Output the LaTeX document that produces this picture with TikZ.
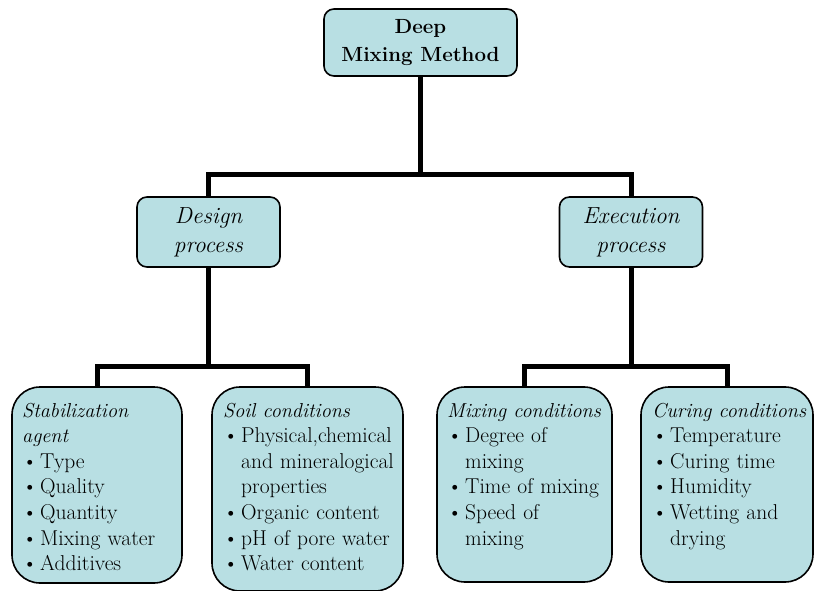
\documentclass[tikz,border=0pt]{standalone}
\definecolor{boxfill}{RGB}{184,223,227}
\newcommand{\bitem}[1]{\par\hangindent=18pt\hangafter=1\noindent\makebox[18pt][l]{\textbullet}#1}
\newcommand{\headit}[1]{{\fontsize{20.2}{25.6}\selectfont\itshape #1}}
\tikzset{
  conn/.style={line width=5pt},
  upbox/.style={draw, line width=1.6pt, fill=boxfill, rounded corners=10pt, inner sep=0pt, align=center},
  leafbox/.style={draw, line width=1.6pt, fill=boxfill, rounded corners=28pt, inner sep=0pt},
  leaftext/.style={anchor=north west, inner sep=0pt, text width=200pt, align=left, font=\fontsize{21.5}{25.6}\selectfont},
}
\begin{document}
\begin{tikzpicture}[x=1pt,y=-1pt]
\useasboundingbox (0,0) rectangle (815,591);
% nodes
\node[upbox, minimum width=193pt, minimum height=67pt, font=\fontsize{20.5}{28}\selectfont\bfseries] (top) at (420.5,42.5) {Deep\\Mixing Method};
\node[upbox, minimum width=143pt, minimum height=70pt, font=\fontsize{23.3}{29}\selectfont\itshape] (design) at (208.5,232) {Design\\process};
\node[upbox, minimum width=143pt, minimum height=70pt, font=\fontsize{23.3}{29}\selectfont\itshape] (exec) at (631,232) {Execution\\process};
\node[leafbox, minimum width=170pt, minimum height=196pt] (stab) at (97,485) {};
\node[leafbox, minimum width=191pt, minimum height=204pt] (soil) at (307.5,489) {};
\node[leafbox, minimum width=175pt, minimum height=195pt] (mix) at (524.5,484.5) {};
\node[leafbox, minimum width=172pt, minimum height=195pt] (cur) at (727,484.5) {};
% junctions
\coordinate (j1) at (420.5,175);
\coordinate (j2) at (208.5,366);
\coordinate (j3) at (631,366);
% connectors
\draw[conn] (top.south) -- (j1);
\draw[conn] (design.north) -- (design.north |- j1) -- (exec.north |- j1) -- (exec.north);
\draw[conn] (design.south) -- (j2);
\draw[conn] (stab.north) -- (stab.north |- j2) -- (soil.north |- j2) -- (soil.north);
\draw[conn] (exec.south) -- (j3);
\draw[conn] (mix.north) -- (mix.north |- j3) -- (cur.north |- j3) -- (cur.north);
% leaf texts
\node[leaftext] (stabt) at (22,399) {\strut\headit{Stabilization}\newline\headit{agent}
\bitem{Type}\bitem{Quality}\bitem{Quantity}\bitem{Mixing water}\bitem{Additives}\par};
\node[leaftext] (soilt) at (223,399) {\strut\headit{Soil conditions}
\bitem{Physical,chemical\newline and mineralogical\newline properties}\bitem{Organic content}\bitem{pH of pore water}\bitem{Water content}\par};
\node[leaftext] (mixt) at (447,399) {\strut\headit{Mixing conditions}
\bitem{Degree of\newline mixing}\bitem{Time of mixing}\bitem{Speed of\newline mixing}\par};
\node[leaftext] (curt) at (652,399) {\strut\headit{Curing conditions}
\bitem{Temperature}\bitem{Curing time}\bitem{Humidity}\bitem{Wetting and\newline drying}\par};
\end{tikzpicture}
\end{document}
